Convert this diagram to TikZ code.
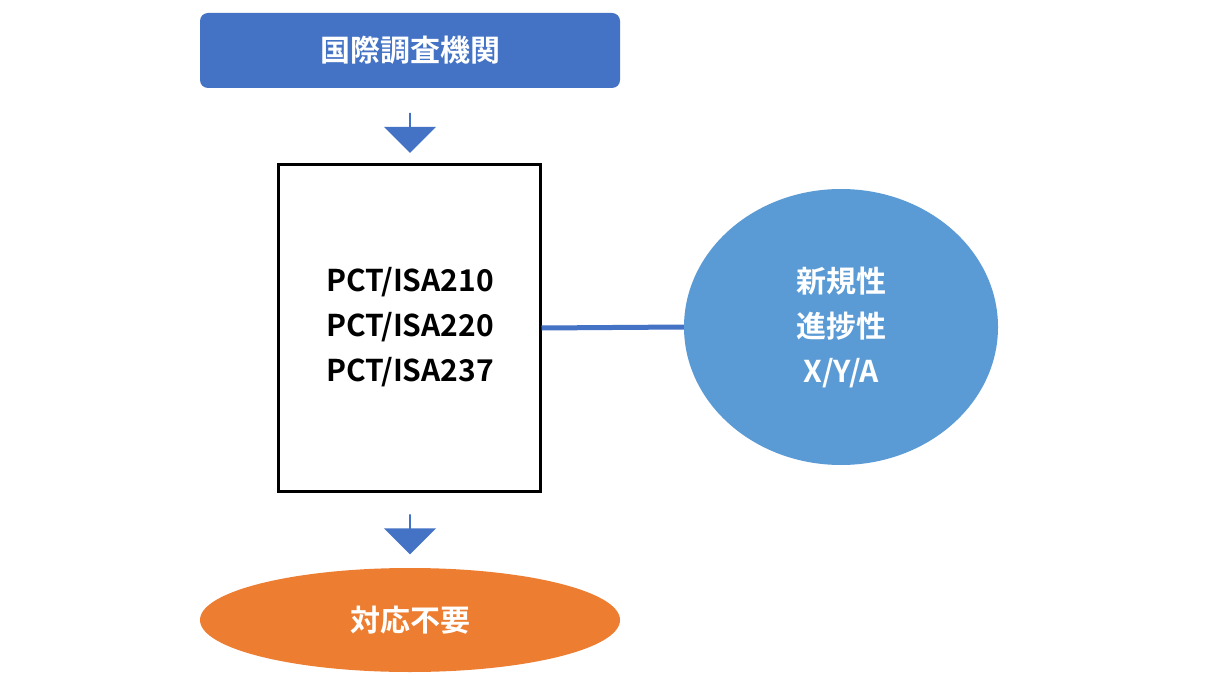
\documentclass[tikz,border=0pt]{standalone}
\usepackage{fontspec}
\setmainfont{Noto Sans CJK JP}[BoldFont={Noto Sans CJK JP Bold}]
\usetikzlibrary{shapes.geometric,shapes.arrows}
\definecolor{blueA}{HTML}{4472C4}
\definecolor{blueB}{HTML}{5B9BD5}
\definecolor{orangeA}{HTML}{ED7D31}
\begin{document}
\begin{tikzpicture}[x=1pt,y=-1pt,
  txt/.style={font=\fontsize{30}{45}\selectfont\bfseries,align=center},
  darrow/.style={single arrow,fill=blueA,draw=none,shape border rotate=270,minimum height=40pt,minimum width=52pt,single arrow head extend=6pt,inner sep=0pt}]
\useasboundingbox (0,0) rectangle (1206,684);
\fill[white] (0,0) rectangle (1206,684);
\node[txt,fill=blueA,text=white,rounded corners=8pt,minimum width=420pt,minimum height=75pt] (isa) at (410,50.5) {国際調査機関};
\node[darrow] (a1) at (410,132.5) {};
\node[draw=black,line width=3pt,minimum width=262pt,minimum height=326pt] (box) at (409,328) {};
\node[txt,text=black] (doc) at (410,327) {PCT/ISA210\\PCT/ISA220\\PCT/ISA237};
\node[ellipse,fill=blueB,minimum width=314pt,minimum height=276pt,inner sep=0pt] (ell) at (841,327) {};
\node[txt,text=white] (ev) at (841,327) {新規性\\進捗性\\X/Y/A};
\draw[blueA,line width=5pt] (box.east) -- (ell.west);
\node[darrow] (a2) at (410,534) {};
\node[ellipse,fill=orangeA,minimum width=420pt,minimum height=104pt,inner sep=0pt,txt,text=white] (no) at (410,620) {対応不要};
\end{tikzpicture}
\end{document}
